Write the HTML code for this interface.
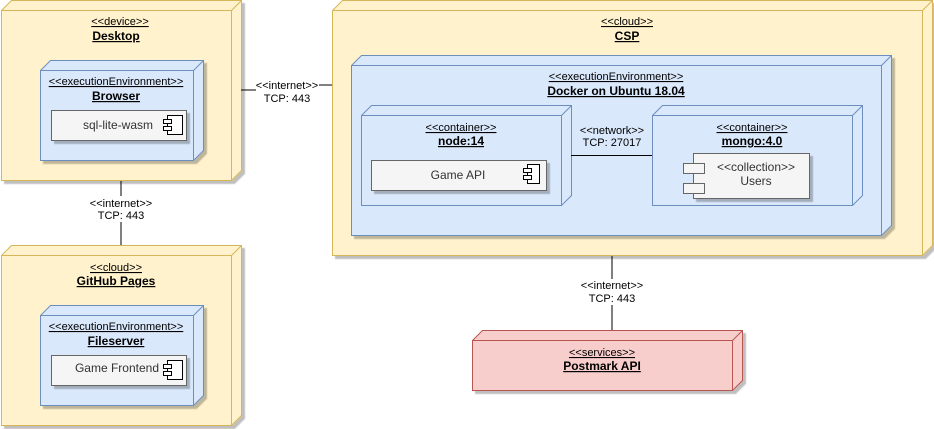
<!DOCTYPE html>
<html><head><meta charset="utf-8"><style>
html,body{margin:0;padding:0;background:#fff;}
svg{display:block;font-family:"Liberation Sans",Arial,sans-serif;}
.st{font-size:11px;fill:#000;text-decoration:underline;}
.nm{font-size:12px;font-weight:bold;fill:#000;text-decoration:underline;}
.lb{font-size:11px;fill:#000;}
.cp{font-size:12px;fill:#333;}
</style></head><body>
<svg width="934" height="429" viewBox="0 0 934 429" xmlns="http://www.w3.org/2000/svg">
<defs>
<filter id="sh" x="-5%" y="-5%" width="115%" height="115%"><feDropShadow dx="3" dy="3" stdDeviation="0.6" flood-color="#000" flood-opacity="0.25"/></filter>
</defs>
<g fill="#fff2cc" stroke="#d6b656" filter="url(#sh)">
<path d="M1.5,10.5 L11.5,0.5 L241.5,0.5 L241.5,170.5 L231.5,180.5 L1.5,180.5 Z"/>
<path d="M1.5,10.5 L231.5,10.5 L241.5,0.5 M231.5,10.5 L231.5,180.5" fill="none"/>
<path d="M1.5,255.5 L11.5,245.5 L241.5,245.5 L241.5,415.5 L231.5,425.5 L1.5,425.5 Z"/>
<path d="M1.5,255.5 L231.5,255.5 L241.5,245.5 M231.5,255.5 L231.5,425.5" fill="none"/>
<path d="M332.5,10.5 L342.5,0.5 L932.5,0.5 L932.5,245.5 L922.5,255.5 L332.5,255.5 Z"/>
<path d="M332.5,10.5 L922.5,10.5 L932.5,0.5 M922.5,10.5 L922.5,255.5" fill="none"/>
</g>
<g fill="#dae8fc" stroke="#6c8ebf" filter="url(#sh)">
<path d="M40.5,70.5 L50.5,60.5 L203.5,60.5 L203.5,150.5 L193.5,160.5 L40.5,160.5 Z"/>
<path d="M40.5,70.5 L193.5,70.5 L203.5,60.5 M193.5,70.5 L193.5,160.5" fill="none"/>
<path d="M40.5,315.5 L50.5,305.5 L203.5,305.5 L203.5,395.5 L193.5,405.5 L40.5,405.5 Z"/>
<path d="M40.5,315.5 L193.5,315.5 L203.5,305.5 M193.5,315.5 L193.5,405.5" fill="none"/>
<path d="M351.5,65.5 L361.5,55.5 L891.5,55.5 L891.5,225.5 L881.5,235.5 L351.5,235.5 Z"/>
<path d="M351.5,65.5 L881.5,65.5 L891.5,55.5 M881.5,65.5 L881.5,235.5" fill="none"/>
<path d="M361.5,115.5 L371.5,105.5 L571.5,105.5 L571.5,195.5 L561.5,205.5 L361.5,205.5 Z"/>
<path d="M361.5,115.5 L561.5,115.5 L571.5,105.5 M561.5,115.5 L561.5,205.5" fill="none"/>
<path d="M652.5,115.5 L662.5,105.5 L862.5,105.5 L862.5,195.5 L852.5,205.5 L652.5,205.5 Z"/>
<path d="M652.5,115.5 L852.5,115.5 L862.5,105.5 M852.5,115.5 L852.5,205.5" fill="none"/>
</g>
<g fill="#f8cecc" stroke="#b85450" filter="url(#sh)">
<path d="M472.5,340.5 L482.5,330.5 L742.5,330.5 L742.5,380.5 L732.5,390.5 L472.5,390.5 Z"/>
<path d="M472.5,340.5 L732.5,340.5 L742.5,330.5 M732.5,340.5 L732.5,390.5" fill="none"/>
</g>
<!-- connectors -->
<g stroke="#000" stroke-width="1">
<line x1="241" y1="90" x2="256" y2="90"/><line x1="319" y1="85" x2="332" y2="85"/>
<line x1="121" y1="181" x2="121" y2="196"/><line x1="121" y1="222" x2="121" y2="245"/>
<line x1="571" y1="155.5" x2="652" y2="155.5"/>
<line x1="612" y1="256" x2="612" y2="279"/><line x1="612" y1="305" x2="612" y2="330"/>
</g>
<g fill="#f5f5f5" stroke="#666" filter="url(#sh)">
<rect x="51.5" y="110.5" width="135" height="30"/>
<rect x="51.5" y="355.5" width="135" height="30"/>
<rect x="371.5" y="160.5" width="175" height="30"/>
<rect x="693.5" y="153.5" width="116" height="45"/>
</g>
<g fill="#f5f5f5" stroke="#666">
<rect x="683.5" y="163.5" width="21" height="10"/>
<rect x="683.5" y="183.5" width="21" height="10"/>
</g>
<g fill="#fff" stroke="#000">
<rect x="167.5" y="115.5" width="15" height="19"/><rect x="163.5" y="119.5" width="8" height="4"/><rect x="163.5" y="126.5" width="8" height="4"/>
<rect x="167.5" y="360.5" width="15" height="19"/><rect x="163.5" y="364.5" width="8" height="4"/><rect x="163.5" y="371.5" width="8" height="4"/>
<rect x="527.5" y="164.5" width="12" height="19"/><rect x="523.5" y="168.5" width="8" height="4"/><rect x="523.5" y="175.5" width="8" height="4"/>
</g>
<g text-anchor="middle">
<text class="st" x="120" y="25">&lt;&lt;device&gt;&gt;</text>
<text class="nm" x="116" y="40">Desktop</text>
<text class="st" x="116" y="85">&lt;&lt;executionEnvironment&gt;&gt;</text>
<text class="nm" x="116" y="100">Browser</text>
<text class="cp" x="118" y="129">sql-lite-wasm</text>
<text class="lb" x="287" y="89" font-size="10">&lt;&lt;internet&gt;&gt;</text>
<text class="lb" x="287" y="102">TCP: 443</text>
<text class="lb" x="121" y="207" font-size="10">&lt;&lt;internet&gt;&gt;</text>
<text class="lb" x="121" y="219">TCP: 443</text>
<text class="st" x="116" y="271">&lt;&lt;cloud&gt;&gt;</text>
<text class="nm" x="116" y="285">GitHub Pages</text>
<text class="st" x="116" y="330">&lt;&lt;executionEnvironment&gt;&gt;</text>
<text class="nm" x="116" y="345">Fileserver</text>
<text class="cp" x="117" y="372">Game Frontend</text>
<text class="st" x="627" y="25">&lt;&lt;cloud&gt;&gt;</text>
<text class="nm" x="627" y="40">CSP</text>
<text class="st" x="616" y="80">&lt;&lt;executionEnvironment&gt;&gt;</text>
<text class="nm" x="616" y="95">Docker on Ubuntu 18.04</text>
<text class="st" x="461" y="131">&lt;&lt;container&gt;&gt;</text>
<text class="nm" x="461" y="145">node:14</text>
<text class="cp" x="458" y="179">Game API</text>
<text class="lb" x="612" y="134" font-size="10">&lt;&lt;network&gt;&gt;</text>
<text class="lb" x="612" y="146">TCP: 27017</text>
<text class="st" x="752" y="131">&lt;&lt;container&gt;&gt;</text>
<text class="nm" x="752" y="145">mongo:4.0</text>
<text class="cp" x="756" y="171" font-size="11">&lt;&lt;collection&gt;&gt;</text>
<text class="cp" x="756" y="185">Users</text>
<text class="lb" x="612" y="289" font-size="10">&lt;&lt;internet&gt;&gt;</text>
<text class="lb" x="612" y="302">TCP: 443</text>
<text class="st" x="602" y="356">&lt;&lt;services&gt;&gt;</text>
<text class="nm" x="602" y="370">Postmark API</text>
</g>
</svg>
</body></html>
